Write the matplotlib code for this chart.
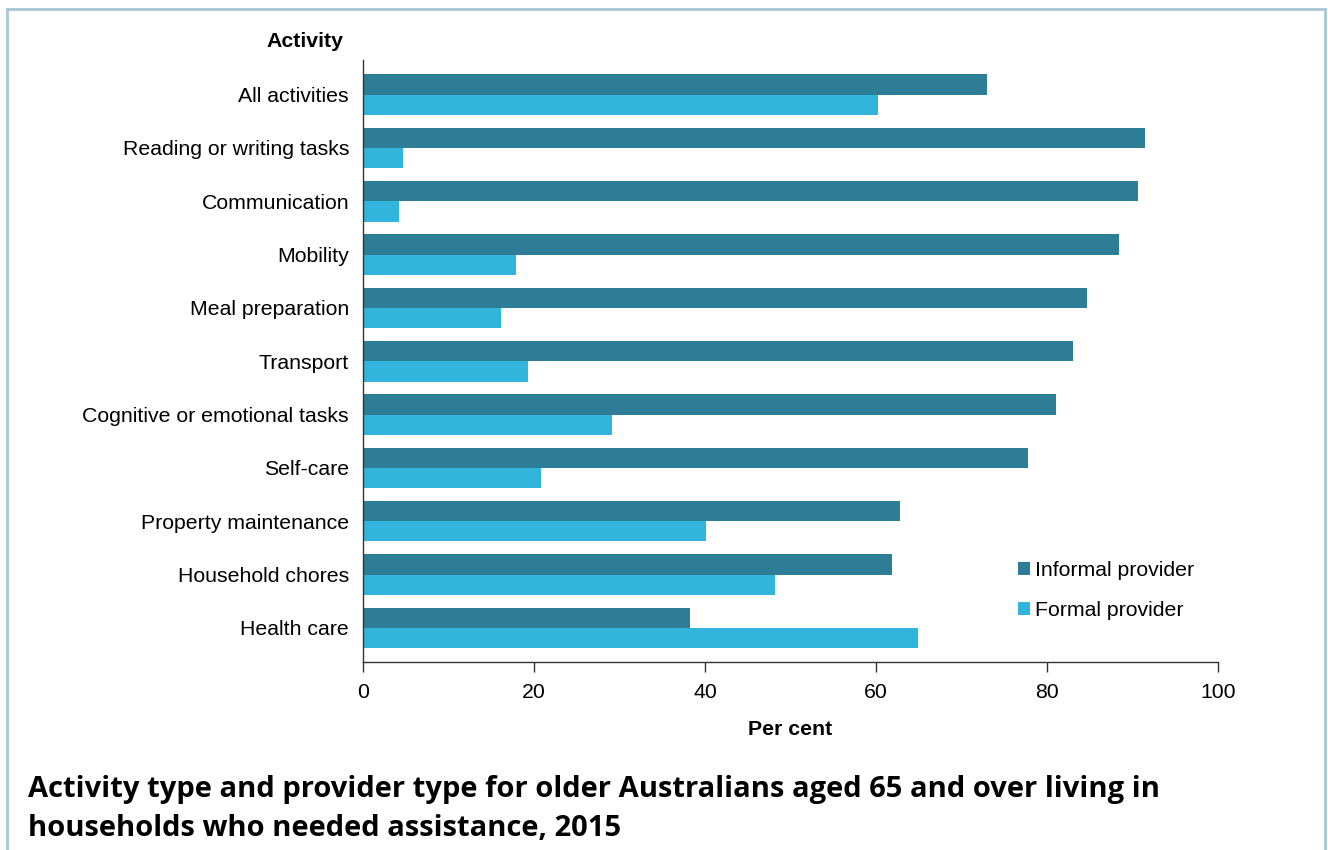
import numpy as np
import matplotlib
matplotlib.use('Agg')
import matplotlib.pyplot as plt
from matplotlib.patches import Rectangle

# data (per cent)
activities = ['All activities', 'Reading or writing tasks', 'Communication', 'Mobility',
              'Meal preparation', 'Transport', 'Cognitive or emotional tasks', 'Self-care',
              'Property maintenance', 'Household chores', 'Health care']
informal = [73.0, 91.5, 90.6, 88.4, 84.7, 83.0, 81.1, 77.8, 62.8, 61.9, 38.2]
formal = [60.2, 4.7, 4.2, 17.9, 16.1, 19.3, 29.1, 20.8, 40.1, 48.2, 64.9]
xticks = [0, 20, 40, 60, 80, 100]

dark = '#2c7d95'
light = '#31b5dd'
fs = 15.3

plt.rcParams['font.family'] = ['Liberation Sans', 'DejaVu Sans']

fig = plt.figure(figsize=(13.28, 8.5), dpi=100)
ax = fig.add_axes([0.2733, 0.2212, 0.6439, 0.7082])

y = np.arange(len(activities))
h = 0.38
ax.barh(y - h / 2, informal, height=h, color=dark, label='Informal provider')
ax.barh(y + h / 2, formal, height=h, color=light, label='Formal provider')

ax.set_ylim(len(activities) - 0.36, -0.65)
ax.set_xlim(0, 100)
ax.set_xticks(xticks)
ax.set_yticks(y)
ax.set_yticklabels(activities, fontsize=fs)
ax.tick_params(axis='y', length=0, pad=10)
ax.tick_params(axis='x', length=7, width=1, labelsize=fs, pad=8, color='#333333')
for s in ['top', 'right']:
    ax.spines[s].set_visible(False)
for s in ['left', 'bottom']:
    ax.spines[s].set_color('#333333')
    ax.spines[s].set_linewidth(1)

ax.set_xlabel('Per cent', fontsize=fs, fontweight='bold', labelpad=13)
fig.text(0.2585, 0.951, 'Activity', fontsize=fs, fontweight='bold', ha='right', va='center')

leg = ax.legend(loc='lower left', bbox_to_anchor=(0.766, 0.069), frameon=False,
                fontsize=fs, handlelength=0.56, handleheight=0.56, handletextpad=0.25,
                labelspacing=1.0, borderpad=0, borderaxespad=0)

fig.text(0.021, 0.088, 'Activity type and provider type for older Australians aged 65 and over living in\n'
         'households who needed assistance, 2015',
         fontsize=21, fontweight='bold', family=['Open Sans', 'DejaVu Sans'],
         ha='left', va='top', linespacing=1.45)

# light blue frame around the whole chart
frame = Rectangle((0.0055, -0.05), 0.9925, 1.04, transform=fig.transFigure,
                  fill=False, edgecolor='#a6c7d3', linewidth=2, clip_on=False)
fig.patches.append(frame)

fig.savefig('out.png', dpi=100)
